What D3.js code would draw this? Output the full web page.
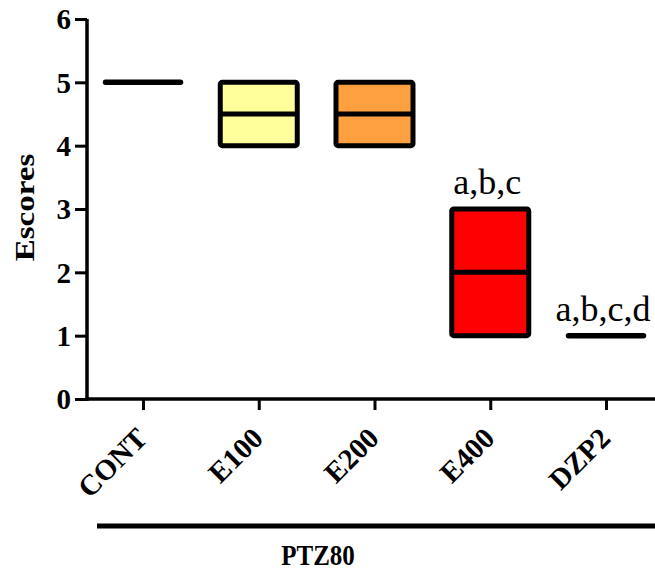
<html>
<head>
<meta charset="UTF-8">
<title>Escores</title>
<script src="https://cdn.jsdelivr.net/npm/d3@7/dist/d3.min.js"></script>
<style>
  body { margin: 0; background: #fff; }
  text { font-family: "Liberation Serif", "Times New Roman", serif; fill: #000; }
</style>
</head>
<body>
<svg id="chart" width="655" height="571"></svg>
<script>
// dados
var groups = ["CONT", "E100", "E200", "E400", "DZP2"];
var mins = [5, 4, 4, 1, 1];
var medians = [5, 4.5, 4.5, 2, 1];
var maxs = [5, 5, 5, 3, 1];
var fills = ["none", "#FFFF9C", "#FFA040", "#FF0000", "none"];
var notes = ["", "", "", "a,b,c", "a,b,c,d"];
var yTicks = [0, 1, 2, 3, 4, 5, 6];

var svg = d3.select("#chart");

var y = d3.scaleLinear().domain([0, 6]).range([399, 19]);
var x = d3.scalePoint().domain(groups).range([143, 606]);
var boxW = 77;

var data = groups.map(function (g, i) {
    return { g: g, min: mins[i], med: medians[i], max: maxs[i], fill: fills[i], note: notes[i] };
});

// eixo y
var yAxis = svg.append("g").attr("transform", "translate(87,0)")
    .call(d3.axisLeft(y).tickValues(yTicks).tickSize(12).tickPadding(4).tickFormat(d3.format("d")));
yAxis.select(".domain").attr("stroke-width", 3.5).attr("d", "M0," + y(6) + "V" + (y(0) + 1.7));
yAxis.selectAll(".tick line").attr("stroke-width", 3);
yAxis.selectAll(".tick text").attr("font-size", 29).attr("font-weight", "bold")
    .attr("font-family", "Liberation Serif, serif").attr("fill", "#000").attr("dy", "0.34em");

// eixo x
var xAxis = svg.append("g").attr("transform", "translate(0," + y(0) + ")")
    .call(d3.axisBottom(x).tickSize(11).tickFormat(""));
xAxis.select(".domain").attr("stroke-width", 3.5).attr("d", "M85.3,0H655");
xAxis.selectAll(".tick line").attr("stroke-width", 3);

svg.selectAll("text.xlab").data(groups).enter().append("text")
    .attr("class", "xlab")
    .attr("transform", function (d) { return "translate(" + (x(d) + 6) + "," + (y(0) + 41) + ") rotate(-45)"; })
    .attr("text-anchor", "end")
    .attr("font-size", 29).attr("font-weight", "bold")
    .text(function (d) { return d; });

// título eixo y
svg.append("text")
    .attr("transform", "translate(34,207.5) scale(1,1.18) rotate(-90)")
    .attr("text-anchor", "middle")
    .attr("font-size", 28).attr("font-weight", "bold")
    .text("Escores");

// caixas
var box = svg.selectAll("g.box").data(data).enter().append("g").attr("class", "box");

box.filter(function (d) { return d.max > d.min; }).append("rect")
    .attr("x", function (d) { return x(d.g) - boxW / 2; })
    .attr("y", function (d) { return y(d.max); })
    .attr("width", boxW)
    .attr("height", function (d) { return y(d.min) - y(d.max); })
    .attr("rx", 2)
    .attr("fill", function (d) { return d.fill; })
    .attr("stroke", "#000").attr("stroke-width", 5);

box.append("line")
    .attr("x1", function (d) { return x(d.g) - (d.max > d.min ? boxW / 2 : 37.5); })
    .attr("x2", function (d) { return x(d.g) + (d.max > d.min ? boxW / 2 : 37.5); })
    .attr("y1", function (d) { return y(d.med); })
    .attr("y2", function (d) { return y(d.med); })
    .attr("stroke", "#000")
    .attr("stroke-width", function (d) { return d.max > d.min ? 5 : 5.5; })
    .attr("stroke-linecap", function (d) { return d.max > d.min ? "butt" : "round"; });

box.append("text")
    .attr("x", function (d) { return x(d.g) - 3; })
    .attr("y", function (d) { return y(d.max) - 15; })
    .attr("text-anchor", "middle")
    .attr("font-size", 36)
    .text(function (d) { return d.note; });

// barra PTZ80
svg.append("line")
    .attr("x1", 97).attr("x2", 655).attr("y1", 526).attr("y2", 526)
    .attr("stroke", "#000").attr("stroke-width", 5);
svg.append("text")
    .attr("transform", "translate(318,565) scale(1,1.2)")
    .attr("text-anchor", "middle")
    .attr("font-size", 25).attr("font-weight", "bold")
    .text("PTZ80");
</script>
</body>
</html>
